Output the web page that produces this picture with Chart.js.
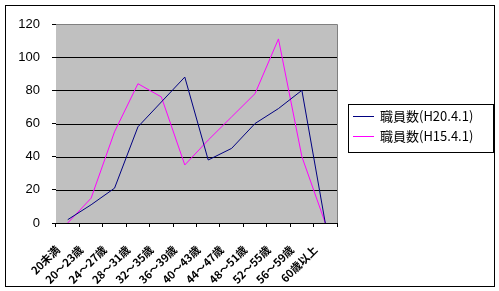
<!DOCTYPE html>
<html>
<head>
<meta charset="utf-8">
<script src="https://cdn.jsdelivr.net/npm/chart.js@4"></script>
<style>
  html, body { margin: 0; padding: 0; background: #fff; }
  #wrap { width: 499px; height: 291px; }
</style>
</head>
<body>
<div id="wrap"><canvas id="chart" width="499" height="291"></canvas></div>
<script>
const categories = ['20未満', '20～23歳', '24～27歳', '28～31歳', '32～35歳', '36～39歳',
    '40～43歳', '44～47歳', '48～51歳', '52～55歳', '56～59歳', '60歳以上'];
const seriesNames = ['職員数(H20.4.1)', '職員数(H15.4.1)'];
const staffH20 = [2, 11, 21, 58, 73, 88, 38, 45, 60, 69, 80, 0];
const staffH15 = [0, 15, 55, 84, 76, 35, 50, 64, 78, 111, 40, 0];
const yTicks = [0, 20, 40, 60, 80, 100, 120];
const colors = ['#000080', '#ff00ff'];

const frame = {
    id: 'frame',
    beforeDatasetsDraw(chart) {
        const { ctx, chartArea: a } = chart;
        ctx.save();
        ctx.fillStyle = '#c0c0c0';
        ctx.fillRect(a.left, a.top, a.right - a.left, a.bottom - a.top);
        // horizontal grid
        const y = chart.scales.y;
        ctx.strokeStyle = '#000';
        ctx.lineWidth = 1;
        yTicks.slice(1, -1).forEach(v => {
            const py = Math.round(y.getPixelForValue(v)) + 0.5;
            ctx.beginPath();
            ctx.moveTo(a.left, py);
            ctx.lineTo(a.right, py);
            ctx.stroke();
        });
        // gray top/right border
        ctx.strokeStyle = '#808080';
        ctx.beginPath();
        ctx.moveTo(a.left, Math.round(a.top) + 0.5);
        ctx.lineTo(Math.round(a.right) + 0.5, Math.round(a.top) + 0.5);
        ctx.lineTo(Math.round(a.right) + 0.5, a.bottom);
        ctx.stroke();
        ctx.restore();
    },
    afterDraw(chart) {
        const { ctx } = chart;
        ctx.save();
        ctx.strokeStyle = '#000';
        ctx.lineWidth = 1;
        ctx.strokeRect(5.5, 5.5, 489, 281);
        // legend
        ctx.strokeRect(348.5, 104.5, 145, 48);
        ctx.font = '13px "Noto Sans CJK JP"';
        ctx.textBaseline = 'middle';
        chart.data.datasets.forEach((ds, i) => {
            const ly = 116.5 + i * 20;
            ctx.strokeStyle = ds.borderColor;
            ctx.beginPath();
            ctx.moveTo(353, ly);
            ctx.lineTo(374, ly);
            ctx.stroke();
            ctx.fillStyle = '#000';
            ctx.fillText(ds.label, 380, ly);
        });
        ctx.restore();
    }
};

new Chart(document.getElementById('chart'), {
    type: 'line',
    data: {
        labels: categories,
        datasets: [
            { label: seriesNames[0], data: staffH20, borderColor: colors[0], borderWidth: 1, pointRadius: 0, tension: 0 },
            { label: seriesNames[1], data: staffH15, borderColor: colors[1], borderWidth: 1, pointRadius: 0, tension: 0 }
        ]
    },
    options: {
        responsive: false,
        animation: false,
        events: [],
        layout: { padding: { left: 0, top: 24, right: 162, bottom: 0 } },
        plugins: { legend: { display: false }, tooltip: { enabled: false } },
        scales: {
            x: {
                offset: true,
                grid: { offset: true, drawOnChartArea: false, drawTicks: true, tickLength: 4, color: '#000' },
                border: { color: '#000' },
                ticks: {
                    color: '#000', minRotation: 45, maxRotation: 45, autoSkip: false,
                    font: { family: '"Noto Sans CJK JP"', size: 11, weight: 'bold' },
                    padding: 16, labelOffset: -10
                },
                afterFit(s) { s.height = 68; }
            },
            y: {
                min: 0, max: 120,
                afterBuildTicks(s) { s.ticks = yTicks.map(v => ({ value: v })); },
                grid: { drawOnChartArea: false, drawTicks: true, tickLength: 4, color: '#000' },
                border: { color: '#000' },
                ticks: { color: '#000', padding: 12, font: { family: 'Liberation Sans', size: 13 } },
                afterFit(s) { s.width = 56; }
            }
        }
    },
    plugins: [frame]
});
</script>
</body>
</html>
